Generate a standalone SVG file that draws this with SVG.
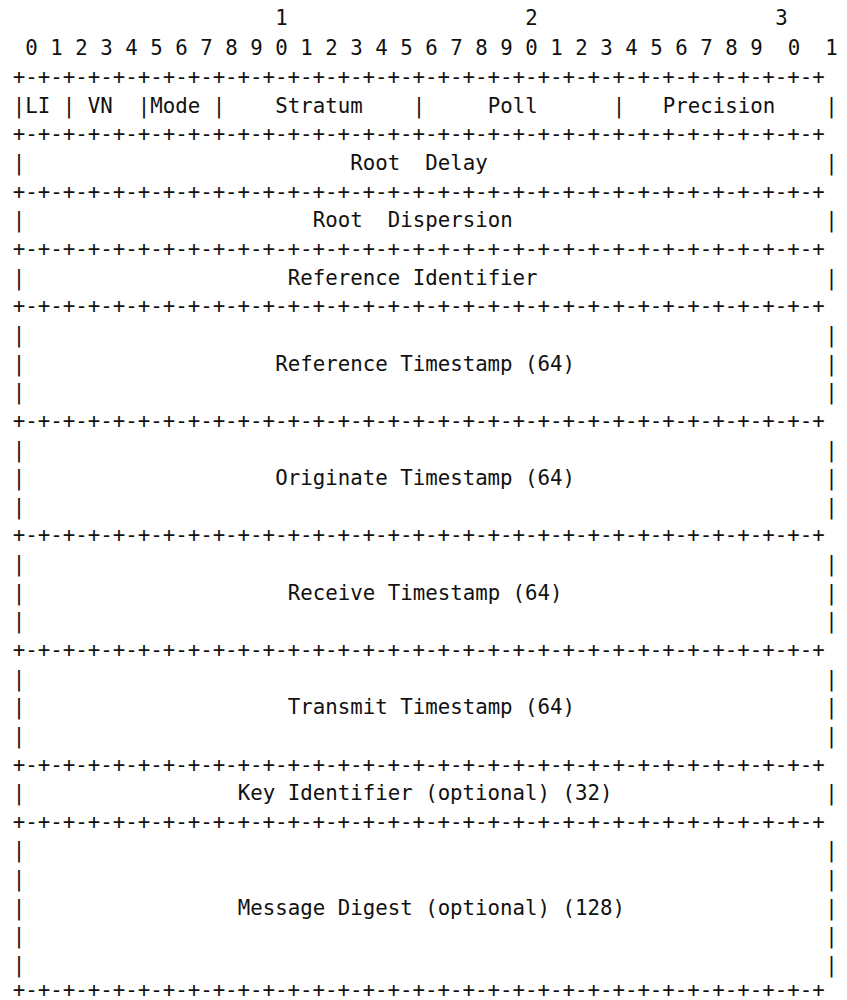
<svg xmlns="http://www.w3.org/2000/svg" width="847" height="1000" viewBox="0 0 847 1000" xml:space="preserve">
<style>
text { font-family: "DejaVu Sans Mono", "Liberation Mono", monospace; font-size: 20.76px; fill: #111; white-space: pre; }
</style>
<rect x="0" y="0" width="847" height="1000" fill="#fff"/>
<g id="ruler">
<text x="275.25" y="25.4">1</text>
<text x="525.25" y="25.4">2</text>
<text x="775.25" y="25.4">3</text>
<text x="25.25 50.25 75.25 100.25 125.25 150.25 175.25 200.25 225.25 250.25 275.25 300.25 325.25 350.25 375.25 400.25 425.25 450.25 475.25 500.25 525.25 550.25 575.25 600.25 625.25 650.25 675.25 700.25 725.25 750.25 787.75 825.25" y="55.04">01234567890123456789012345678901</text>
</g>
<g id="borders">
<text x="12.75" y="84.18">+-+-+-+-+-+-+-+-+-+-+-+-+-+-+-+-+-+-+-+-+-+-+-+-+-+-+-+-+-+-+-+-+</text>
<text x="12.75" y="141.46">+-+-+-+-+-+-+-+-+-+-+-+-+-+-+-+-+-+-+-+-+-+-+-+-+-+-+-+-+-+-+-+-+</text>
<text x="12.75" y="198.74">+-+-+-+-+-+-+-+-+-+-+-+-+-+-+-+-+-+-+-+-+-+-+-+-+-+-+-+-+-+-+-+-+</text>
<text x="12.75" y="256.02">+-+-+-+-+-+-+-+-+-+-+-+-+-+-+-+-+-+-+-+-+-+-+-+-+-+-+-+-+-+-+-+-+</text>
<text x="12.75" y="313.3">+-+-+-+-+-+-+-+-+-+-+-+-+-+-+-+-+-+-+-+-+-+-+-+-+-+-+-+-+-+-+-+-+</text>
<text x="12.75" y="427.86">+-+-+-+-+-+-+-+-+-+-+-+-+-+-+-+-+-+-+-+-+-+-+-+-+-+-+-+-+-+-+-+-+</text>
<text x="12.75" y="542.42">+-+-+-+-+-+-+-+-+-+-+-+-+-+-+-+-+-+-+-+-+-+-+-+-+-+-+-+-+-+-+-+-+</text>
<text x="12.75" y="656.98">+-+-+-+-+-+-+-+-+-+-+-+-+-+-+-+-+-+-+-+-+-+-+-+-+-+-+-+-+-+-+-+-+</text>
<text x="12.75" y="771.54">+-+-+-+-+-+-+-+-+-+-+-+-+-+-+-+-+-+-+-+-+-+-+-+-+-+-+-+-+-+-+-+-+</text>
<text x="12.75" y="828.82">+-+-+-+-+-+-+-+-+-+-+-+-+-+-+-+-+-+-+-+-+-+-+-+-+-+-+-+-+-+-+-+-+</text>
<text x="12.75" y="996.5">+-+-+-+-+-+-+-+-+-+-+-+-+-+-+-+-+-+-+-+-+-+-+-+-+-+-+-+-+-+-+-+-+</text>
</g>
<g id="bars">
<text x="12.75" y="112.82">|</text><text x="62.75" y="112.82">|</text><text x="137.75" y="112.82">|</text><text x="212.75" y="112.82">|</text><text x="412.75" y="112.82">|</text><text x="612.75" y="112.82">|</text><text x="825.25" y="112.82">|</text>
<text x="12.75" y="170.1">|</text><text x="825.25" y="170.1">|</text>
<text x="12.75" y="227.38">|</text><text x="825.25" y="227.38">|</text>
<text x="12.75" y="284.66">|</text><text x="825.25" y="284.66">|</text>
<text x="12.75" y="341.94">|</text><text x="825.25" y="341.94">|</text>
<text x="12.75" y="370.58">|</text><text x="825.25" y="370.58">|</text>
<text x="12.75" y="399.22">|</text><text x="825.25" y="399.22">|</text>
<text x="12.75" y="456.5">|</text><text x="825.25" y="456.5">|</text>
<text x="12.75" y="485.14">|</text><text x="825.25" y="485.14">|</text>
<text x="12.75" y="513.78">|</text><text x="825.25" y="513.78">|</text>
<text x="12.75" y="571.06">|</text><text x="825.25" y="571.06">|</text>
<text x="12.75" y="599.7">|</text><text x="825.25" y="599.7">|</text>
<text x="12.75" y="628.34">|</text><text x="825.25" y="628.34">|</text>
<text x="12.75" y="685.62">|</text><text x="825.25" y="685.62">|</text>
<text x="12.75" y="714.26">|</text><text x="825.25" y="714.26">|</text>
<text x="12.75" y="742.9">|</text><text x="825.25" y="742.9">|</text>
<text x="12.75" y="800.18">|</text><text x="825.25" y="800.18">|</text>
<text x="12.75" y="857.46">|</text><text x="825.25" y="857.46">|</text>
<text x="12.75" y="886.1">|</text><text x="825.25" y="886.1">|</text>
<text x="12.75" y="914.74">|</text><text x="825.25" y="914.74">|</text>
<text x="12.75" y="943.38">|</text><text x="825.25" y="943.38">|</text>
<text x="12.75" y="972.02">|</text><text x="825.25" y="972.02">|</text>
</g>
<g id="field-li"><text x="25.25" y="112.82">LI</text></g>
<g id="field-vn"><text x="87.75" y="112.82">VN</text></g>
<g id="field-mode"><text x="150.25" y="112.82">Mode</text></g>
<g id="field-stratum"><text x="275.25" y="112.82">Stratum</text></g>
<g id="field-poll"><text x="487.75" y="112.82">Poll</text></g>
<g id="field-precision"><text x="662.75" y="112.82">Precision</text></g>
<g id="field-root-delay"><text x="350.25" y="170.1">Root  Delay</text></g>
<g id="field-root-dispersion"><text x="312.75" y="227.38">Root  Dispersion</text></g>
<g id="field-reference-identifier"><text x="287.75" y="284.66">Reference Identifier</text></g>
<g id="field-reference-timestamp"><text x="275.25" y="370.58">Reference Timestamp (64)</text></g>
<g id="field-originate-timestamp"><text x="275.25" y="485.14">Originate Timestamp (64)</text></g>
<g id="field-receive-timestamp"><text x="287.75" y="599.7">Receive Timestamp (64)</text></g>
<g id="field-transmit-timestamp"><text x="287.75" y="714.26">Transmit Timestamp (64)</text></g>
<g id="field-key-identifier"><text x="237.75" y="800.18">Key Identifier (optional) (32)</text></g>
<g id="field-message-digest"><text x="237.75" y="914.74">Message Digest (optional) (128)</text></g>
</svg>
